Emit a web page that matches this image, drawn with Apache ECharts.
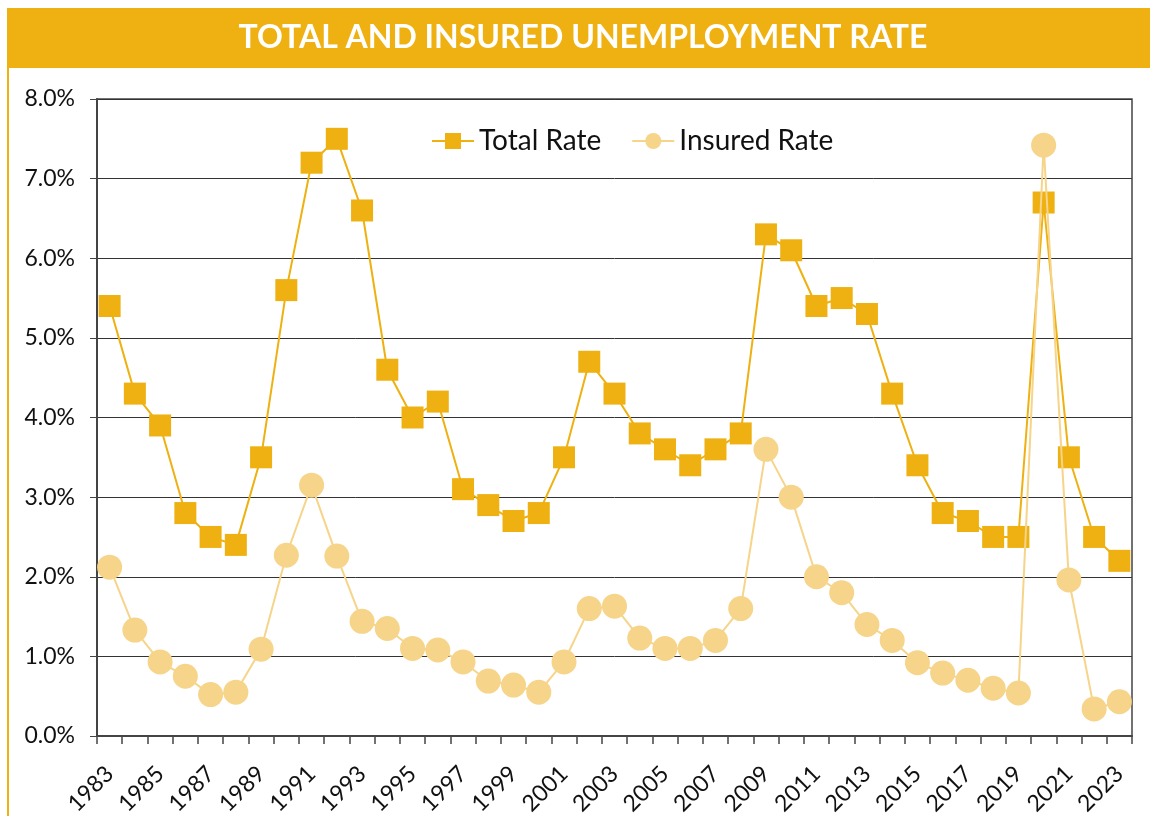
<!DOCTYPE html>
<html>
<head>
	<meta charset="utf-8">
	<script src="https://cdn.jsdelivr.net/npm/echarts@6/dist/echarts.min.js"></script>
	<style>
		html, body { margin: 0; padding: 0; background: #fff; }
		#chart { width: 1150px; height: 816px; }
	</style>
</head>
<body>
	<div id="chart"></div>
	<script>
		// years 1983 - 2023
		var years = [];
		for (var y = 1983; y <= 2023; y++) years.push(String(y));

		var totalRate = [5.4, 4.3, 3.9, 2.8, 2.5, 2.4, 3.5, 5.6, 7.2, 7.5,
			6.6, 4.6, 4.0, 4.2, 3.1, 2.9, 2.7, 2.8, 3.5, 4.7,
			4.3, 3.8, 3.6, 3.4, 3.6, 3.8, 6.3, 6.1, 5.4, 5.5,
			5.3, 4.3, 3.4, 2.8, 2.7, 2.5, 2.5, 6.7, 3.5, 2.5, 2.2];

		var insuredRate = [2.12, 1.33, 0.93, 0.75, 0.52, 0.55, 1.09, 2.27, 3.15, 2.26,
			1.44, 1.35, 1.10, 1.08, 0.93, 0.69, 0.64, 0.55, 0.93, 1.60,
			1.63, 1.23, 1.10, 1.10, 1.20, 1.60, 3.60, 3.00, 2.00, 1.80,
			1.40, 1.20, 0.92, 0.79, 0.70, 0.60, 0.54, 7.42, 1.96, 0.34, 0.43];

		var gold = '#EEB111';
		var lightGold = '#F6D48A';
		var font = 'Lato, "Open Sans", sans-serif';

		var chart = echarts.init(document.getElementById('chart'));
		chart.setOption({
			animation: false,
			textStyle: { fontFamily: font },
			graphic: [
				{ type: 'rect', shape: { x: 7, y: 8, width: 1143, height: 60 }, style: { fill: gold }, silent: true },
				{ type: 'rect', shape: { x: 7, y: 68, width: 2, height: 748 }, style: { fill: gold }, silent: true },
				{
					type: 'text', x: 583, y: 38,
					style: {
						text: 'TOTAL AND INSURED UNEMPLOYMENT RATE',
						fill: '#fff', font: 'bold 32px ' + font,
						align: 'center', verticalAlign: 'middle'
					}
				}
			],
			legend: {
				top: 122, left: 426, itemGap: 30, itemWidth: 42, itemHeight: 20,
				textStyle: { fontSize: 28, color: '#111', fontFamily: font },
				data: ['Total Rate', 'Insured Rate']
			},
			grid: {
				left: 97, right: 18, top: 99, bottom: 80,
				outerBoundsMode: 'none',
				show: true, borderColor: '#444', borderWidth: 1.5
			},
			xAxis: {
				type: 'category', data: years, boundaryGap: true,
				axisLine: { lineStyle: { color: '#444', width: 2 } },
				axisTick: { show: true, interval: 0, length: 8, lineStyle: { color: '#444', width: 1.5 } },
				axisLabel: { interval: 1, rotate: 45, fontSize: 23, color: '#111', margin: 34 }
			},
			yAxis: {
				type: 'value', min: 0, max: 8, interval: 1,
				axisLine: { show: true, lineStyle: { color: '#444', width: 2 } },
				axisTick: { show: true, length: 7, lineStyle: { color: '#444' } },
				axisLabel: { fontSize: 23, color: '#111', margin: 22, formatter: function (v) { return v.toFixed(1) + '%'; } },
				splitLine: { lineStyle: { color: '#333', width: 1 } }
			},
			series: [
				{
					name: 'Total Rate', type: 'line', data: totalRate,
					symbol: 'rect', symbolSize: 22, showAllSymbol: true,
					itemStyle: { color: gold },
					lineStyle: { color: gold, width: 2 },
					z: 2
				},
				{
					name: 'Insured Rate', type: 'line', data: insuredRate,
					symbol: 'circle', symbolSize: 25, showAllSymbol: true,
					itemStyle: { color: lightGold },
					lineStyle: { color: lightGold, width: 2 },
					z: 3
				}
			]
		});
	</script>
</body>
</html>
